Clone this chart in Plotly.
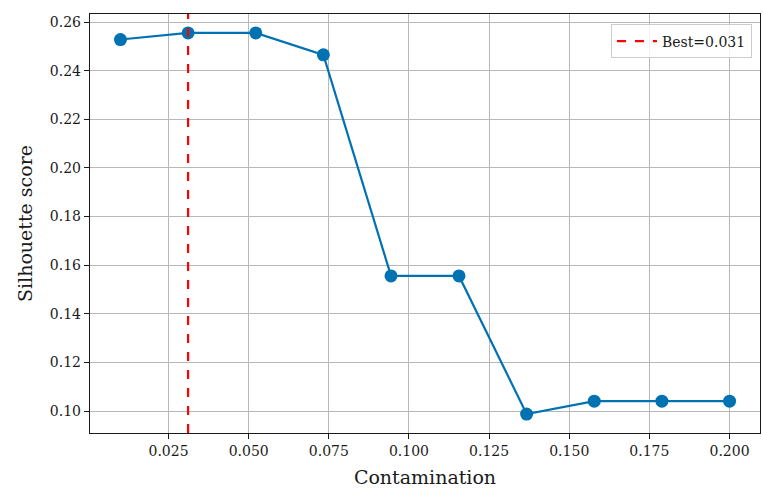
import plotly.graph_objects as go

# Silhouette score per contamination level
contamination = [0.0100, 0.0311, 0.0522, 0.0733, 0.0944, 0.1156, 0.1367, 0.1578, 0.1789, 0.2000]
silhouette = [0.2528, 0.2555, 0.2555, 0.2465, 0.1556, 0.1556, 0.0988, 0.1041, 0.1041, 0.1041]

x_ticks = [0.025, 0.050, 0.075, 0.100, 0.125, 0.150, 0.175, 0.200]
y_ticks = [0.10, 0.12, 0.14, 0.16, 0.18, 0.20, 0.22, 0.24, 0.26]

best_idx = max(range(len(silhouette)), key=lambda i: silhouette[i])
best_x = contamination[best_idx]

FONT = "DejaVu Serif"
BLUE = "#0072B2"
INK = "#1a1a1a"

fig = go.Figure()
fig.add_trace(go.Scatter(
    x=contamination, y=silhouette, mode="lines+markers",
    line=dict(color=BLUE, width=2.2),
    marker=dict(color=BLUE, size=13),
    showlegend=False,
))

fig.add_shape(
    type="line", x0=best_x, x1=best_x, y0=0, y1=1,
    xref="x", yref="paper",
    line=dict(color="red", width=2.2, dash="dash"),
    showlegend=True, name=f"Best={best_x:.3f}",
)

axis_common = dict(
    showgrid=True, gridcolor="#b8b8b8", gridwidth=1.3,
    showline=True, linecolor=INK, linewidth=1.4, mirror=True,
    ticks="outside", ticklen=5, tickcolor=INK, tickwidth=1.2,
    zeroline=False,
    tickfont=dict(family=FONT, size=14, color=INK),
)

fig.update_xaxes(
    range=[0.0005, 0.2095], tickvals=x_ticks,
    ticktext=[f"{v:.3f}" for v in x_ticks],
    title=dict(text="Contamination", font=dict(family=FONT, size=19, color=INK), standoff=12),
    **axis_common,
)
fig.update_yaxes(
    range=[0.0910, 0.2633], tickvals=y_ticks,
    ticktext=[f"{v:.2f}" for v in y_ticks],
    title=dict(text="Silhouette score", font=dict(family=FONT, size=19, color=INK), standoff=12),
    **axis_common,
)

fig.update_layout(
    width=763, height=491,
    margin=dict(l=90, r=3, t=14, b=58),
    plot_bgcolor="white", paper_bgcolor="white",
    font=dict(family=FONT, color=INK),
    legend=dict(
        x=0.988, y=0.975, xanchor="right", yanchor="top",
        bgcolor="rgba(255,255,255,0.8)", bordercolor="#cccccc", borderwidth=1,
        font=dict(family=FONT, size=14, color=INK),
        itemwidth=40,
    ),
)

fig.write_html("out.html")
